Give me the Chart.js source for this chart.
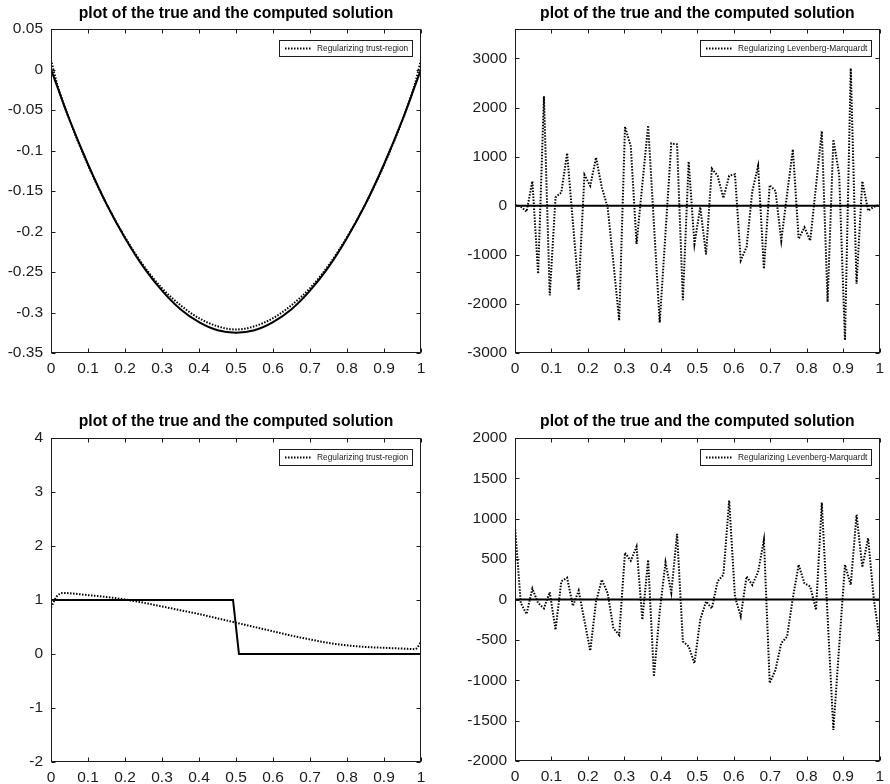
<!DOCTYPE html>
<html>
<head>
<meta charset="utf-8">
<script src="https://cdn.jsdelivr.net/npm/chart.js@4.4.1/dist/chart.umd.min.js"></script>
<style>
  html, body { margin: 0; padding: 0; background: #fff; width: 890px; height: 784px; overflow: hidden; }
  canvas { position: absolute; }
</style>
</head>
<body>
<canvas id="smoothTR" width="445" height="392" style="left:0;top:0"></canvas>
<canvas id="smoothLM" width="445" height="392" style="left:445px;top:0"></canvas>
<canvas id="stepTR" width="445" height="392" style="left:0;top:392px"></canvas>
<canvas id="stepLM" width="445" height="392" style="left:445px;top:392px"></canvas>
<script>
const TITLE = 'plot of the true and the computed solution';
const LABEL_TR = 'Regularizing trust-region';
const LABEL_LM = 'Regularizing Levenberg-Marquardt';

// x axis ticks shared by every panel
const xTicks = [0, 0.1, 0.2, 0.3, 0.4, 0.5, 0.6, 0.7, 0.8, 0.9, 1];

// y axis ticks of each panel
const smoothTRTicks = [-0.35, -0.3, -0.25, -0.2, -0.15, -0.1, -0.05, 0, 0.05];
const smoothLMTicks = [-3000, -2000, -1000, 0, 1000, 2000, 3000];
const stepTRTicks = [-2, -1, 0, 1, 2, 3, 4];
const stepLMTicks = [-2000, -1500, -1000, -500, 0, 500, 1000, 1500, 2000];

// ---- smooth test problem (top row) ----
const smoothX = [0, 0.016, 0.05, 0.1, 0.15, 0.2, 0.25, 0.3, 0.35, 0.4, 0.45, 0.5,
                 0.55, 0.6, 0.65, 0.7, 0.75, 0.8, 0.85, 0.9, 0.95, 0.984, 1];
const smoothTrue = [0, -0.020, -0.062, -0.117, -0.166, -0.208, -0.244, -0.273, -0.296, -0.312, -0.322, -0.325,
                    -0.322, -0.312, -0.296, -0.273, -0.244, -0.208, -0.166, -0.117, -0.062, -0.020, 0];
const smoothTrustRegion = [0.012, -0.017, -0.062, -0.118, -0.166, -0.207, -0.242, -0.270, -0.291, -0.307, -0.317, -0.321,
                           -0.317, -0.307, -0.291, -0.270, -0.242, -0.207, -0.166, -0.118, -0.062, -0.017, 0.012];

// ---- discontinuous test problem (bottom row) ----
const stepX = [0, 0.492, 0.508, 1];
const stepTrue = [1, 1, 0, 0];
const stepTrustX = [0, 0.016, 0.032, 0.05, 0.1, 0.15, 0.2, 0.25, 0.3, 0.35, 0.4, 0.45,
                    0.5, 0.55, 0.6, 0.65, 0.7, 0.75, 0.8, 0.85, 0.9, 0.95, 0.984, 1];
const stepTrustRegion = [0.86, 1.07, 1.13, 1.125, 1.09, 1.055, 1.01, 0.95, 0.88, 0.81, 0.74, 0.66,
                         0.58, 0.50, 0.42, 0.34, 0.27, 0.205, 0.16, 0.13, 0.115, 0.10, 0.09, 0.22];

// Levenberg-Marquardt iterates live on the 64-point discretisation grid
const gridSize = 64;
const lmGrid = Array.from({ length: gridSize }, (_, i) => i / (gridSize - 1));
const smoothLM = [20, -20, -120, 500, -1385, 2230, -1825, 170, 270, 1070, -340, -1720, 630, 405, 980, 370,
                  -30, -1160, -2340, 1610, 1215, -780, 440, 1635, -370, -2380, -550, 1270, 1250, -1925, 900, -780,
                  -30, -990, 755, 610, 155, 610, 640, -1115, -845, 300, 810, -1285, 420, 300, -710, 235,
                  1150, -675, -440, -710, 400, 1520, -1960, 1350, 640, -2740, 2800, -1590, 500, -100, -20, 20];
const stepLM = [905, -45, -180, 135, -45, -110, 90, -375, 225, 270, -80, 110, -265, -635, -25, 245,
                80, -355, -440, 580, 480, 655, -250, 490, -955, -150, 460, 85, 815, -520, -580, -790,
                -250, -25, -110, 225, 305, 1225, 35, -210, 285, 180, 345, 740, -1035, -870, -540, -460,
                20, 430, 200, 160, -130, 1200, -210, -1615, -580, 430, 180, 1050, 400, 760, -5, -500];

// y axis ranges
const smoothTRAxis = { min: -0.35, max: 0.05, ticks: smoothTRTicks };
const smoothLMAxis = { min: -3000, max: 3600, ticks: smoothLMTicks };
const stepTRAxis = { min: -2, max: 4, ticks: stepTRTicks };
const stepLMAxis = { min: -2000, max: 2000, ticks: stepLMTicks };

const FONT = '"Liberation Sans", Arial, Helvetica, sans-serif';
const INK = '#1c1c1c';

const pairs = (xs, ys) => xs.map((x, i) => ({ x, y: ys[i] }));
const fmt = v => String(+Number(v).toFixed(4));

// axes box with inward ticks on all four sides
const frame = {
  id: 'frame',
  afterDatasetsDraw(chart, args, o) {
    const { ctx, chartArea: a } = chart;
    const xs = chart.scales.x, ys = chart.scales.y;
    const L = Math.round(a.left) + 0.5, R = Math.round(a.right) - 0.5;
    const T = Math.round(a.top) + 0.5, B = Math.round(a.bottom) - 0.5;
    ctx.save();
    ctx.strokeStyle = INK;
    ctx.lineWidth = 1;
    ctx.beginPath();
    xs.ticks.forEach((t, i) => {
      const p = Math.round(xs.getPixelForTick(i)) + 0.5;
      ctx.moveTo(p, B); ctx.lineTo(p, B - o.len);
      ctx.moveTo(p, T); ctx.lineTo(p, T + o.len);
    });
    ys.ticks.forEach((t, i) => {
      const p = Math.round(ys.getPixelForTick(i)) + 0.5;
      ctx.moveTo(L, p); ctx.lineTo(L + o.len, p);
      ctx.moveTo(R, p); ctx.lineTo(R - o.len, p);
    });
    ctx.stroke();
    ctx.strokeRect(L, T, R - L, B - T);
    ctx.restore();
  }
};

// boxed legend in the upper right corner, listing the computed solution only
const legendBox = {
  id: 'legendBox',
  afterDraw(chart, args, o) {
    const ds = chart.data.datasets[o.index];
    const { ctx, chartArea: a } = chart;
    ctx.save();
    ctx.font = `${o.size}px ${FONT}`;
    const tw = ctx.measureText(ds.label).width;
    const w = Math.round(o.padL + o.sample + o.gap + tw + o.padR);
    const right = Math.round(a.right - o.right);
    const left = right - w;
    const top = Math.round(a.top + o.top);
    const h = o.height;
    ctx.fillStyle = '#fff';
    ctx.fillRect(left, top, w, h);
    ctx.strokeStyle = INK;
    ctx.lineWidth = 1;
    ctx.strokeRect(left + 0.5, top + 0.5, w, h);
    const cy = top + h / 2 + 0.5;
    ctx.setLineDash(ds.borderDash);
    ctx.lineWidth = ds.borderWidth;
    ctx.strokeStyle = ds.borderColor;
    ctx.beginPath();
    ctx.moveTo(left + o.padL, cy);
    ctx.lineTo(left + o.padL + o.sample, cy);
    ctx.stroke();
    ctx.setLineDash([]);
    ctx.fillStyle = INK;
    ctx.textAlign = 'left';
    ctx.textBaseline = 'middle';
    ctx.fillText(ds.label, left + o.padL + o.sample + o.gap, cy);
    ctx.restore();
  }
};

// centre the title over the plotting area rather than the whole canvas
const centerTitle = {
  id: 'centerTitle',
  afterLayout(chart) {
    const t = chart.titleBlock;
    if (t) { t.left = chart.chartArea.left; t.right = chart.chartArea.right; t.width = t.right - t.left; }
  }
};

const TITLE_SIZE = 15.7;
const TICK_SIZE = 15.5;

function panel(id, cfg) {
  const cv = document.getElementById(id);
  const W = cv.width, H = cv.height, box = cfg.box;
  const titleLine = TITLE_SIZE * 1.2;
  const tickFont = { family: FONT, size: TICK_SIZE };
  return new Chart(cv, {
    type: 'line',
    data: {
      datasets: [
        { label: 'true solution', data: pairs(cfg.trueX, cfg.trueY), borderColor: '#000', borderWidth: 2,
          pointRadius: 0, cubicInterpolationMode: cfg.trueSmooth ? 'monotone' : 'default', tension: 0, fill: false },
        { label: cfg.label, data: pairs(cfg.compX, cfg.compY), borderColor: '#000', borderWidth: 2,
          borderDash: [1.5, 1.5], pointRadius: 0,
          cubicInterpolationMode: cfg.compSmooth ? 'monotone' : 'default', tension: 0, fill: false }
      ]
    },
    options: {
      responsive: false,
      animation: false,
      events: [],
      layout: { padding: { left: 0, top: 0, right: W - box.right, bottom: 0 } },
      plugins: {
        legend: { display: false },
        tooltip: { enabled: false },
        title: {
          display: true, text: TITLE, color: '#000',
          font: { family: FONT, size: TITLE_SIZE, weight: 'bold' },
          padding: { top: cfg.titleMid - titleLine / 2, bottom: box.top - cfg.titleMid - titleLine / 2 }
        },
        frame: { len: 4 },
        legendBox: { index: 1, size: 8.4, top: 11, right: 9, height: 16, padL: 6, sample: 27, gap: 5, padR: 4 }
      },
      scales: {
        x: {
          type: 'linear', min: xTicks[0], max: xTicks[xTicks.length - 1],
          afterFit: s => { s.height = H - box.bottom; },
          afterBuildTicks: s => { s.ticks = xTicks.map(v => ({ value: v })); },
          grid: { display: false, drawTicks: false },
          border: { display: false },
          ticks: { autoSkip: false, maxRotation: 0, padding: 6, color: INK, font: tickFont, callback: fmt }
        },
        y: {
          type: 'linear', min: cfg.axis.min, max: cfg.axis.max,
          afterFit: s => { s.width = box.left; },
          afterBuildTicks: s => { s.ticks = cfg.axis.ticks.map(v => ({ value: v })); },
          grid: { display: false, drawTicks: false },
          border: { display: false },
          ticks: { autoSkip: false, padding: 8, color: INK, font: tickFont, callback: fmt }
        }
      }
    },
    plugins: [frame, legendBox, centerTitle]
  });
}

panel('smoothTR', {
  box: { left: 51, right: 421, top: 29, bottom: 353 }, titleMid: 14,
  trueX: smoothX, trueY: smoothTrue, compX: smoothX, compY: smoothTrustRegion,
  trueSmooth: true, compSmooth: true, label: LABEL_TR, axis: smoothTRAxis
});
panel('smoothLM', {
  box: { left: 70, right: 441, top: 29, bottom: 353 }, titleMid: 14,
  trueX: smoothX, trueY: smoothTrue, compX: lmGrid, compY: smoothLM,
  trueSmooth: true, compSmooth: false, label: LABEL_LM, axis: smoothLMAxis
});
panel('stepTR', {
  box: { left: 51, right: 421, top: 46, bottom: 370 }, titleMid: 30,
  trueX: stepX, trueY: stepTrue, compX: stepTrustX, compY: stepTrustRegion,
  trueSmooth: false, compSmooth: true, label: LABEL_TR, axis: stepTRAxis
});
panel('stepLM', {
  box: { left: 70, right: 441, top: 46, bottom: 369 }, titleMid: 30,
  trueX: stepX, trueY: stepTrue, compX: lmGrid, compY: stepLM,
  trueSmooth: false, compSmooth: false, label: LABEL_LM, axis: stepLMAxis
});
</script>
</body>
</html>
